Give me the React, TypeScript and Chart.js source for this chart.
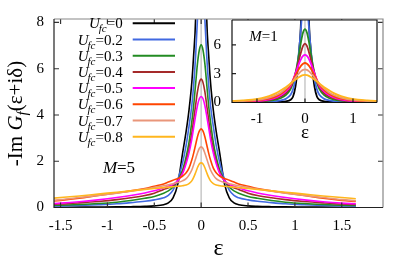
import React, { useEffect, useRef } from "react";
import { Chart, registerables } from "chart.js";
Chart.register(...registerables);

const W = 395;
const H = 261;
const FONT = "'Liberation Serif', 'DejaVu Serif', serif";

const uLabels = ["0", "0.2", "0.3", "0.4", "0.5", "0.6", "0.7", "0.8"];
const colors = ["#000000", "#4169e1", "#228b22", "#a52a2a", "#ff00ff", "#ff4500", "#e9967a", "#ffb61e"];

// Main panel (M=5): values on the positive half of the energy axis (curves are symmetric)
const epsMain = [0, 0.02, 0.04, 0.06, 0.08, 0.1, 0.13, 0.16, 0.2, 0.25, 0.3, 0.35, 0.4, 0.5, 0.6, 0.75, 0.9, 1.1, 1.3, 1.5, 1.65];
const m5U00 = [40, 22, 12, 8.1, 6.6, 5.4, 4.2, 3.3, 2.3, 1.0, 0.42, 0.2, 0.12, 0.07, 0.05, 0.035, 0.025, 0.02, 0.015, 0.012, 0.01];
const m5U02 = [11, 10, 8.1, 6.5, 5.3, 4.4, 3.5, 2.7, 1.9, 1.2, 0.75, 0.52, 0.42, 0.33, 0.27, 0.21, 0.16, 0.12, 0.09, 0.07, 0.06];
const m5U03 = [7.03, 6.8, 6.2, 5.3, 4.4, 3.7, 2.8, 2.2, 1.6, 1.15, 0.88, 0.72, 0.62, 0.48, 0.4, 0.3, 0.23, 0.17, 0.13, 0.1, 0.09];
const m5U04 = [5.55, 5.4, 5.0, 4.4, 3.8, 3.2, 2.5, 2.0, 1.5, 1.15, 0.95, 0.85, 0.78, 0.62, 0.52, 0.42, 0.34, 0.26, 0.2, 0.15, 0.13];
const m5U05 = [4.8, 4.7, 4.4, 3.95, 3.45, 2.95, 2.35, 1.9, 1.45, 1.15, 1.0, 0.92, 0.85, 0.72, 0.63, 0.52, 0.43, 0.33, 0.25, 0.19, 0.16];
const m5U06 = [3.4, 3.3, 3.05, 2.7, 2.35, 2.05, 1.7, 1.5, 1.35, 1.25, 1.18, 1.1, 1.02, 0.92, 0.82, 0.72, 0.63, 0.52, 0.4, 0.31, 0.26];
const m5U07 = [2.62, 2.55, 2.35, 2.1, 1.85, 1.62, 1.4, 1.25, 1.15, 1.08, 1.03, 0.98, 0.94, 0.87, 0.8, 0.7, 0.62, 0.52, 0.43, 0.34, 0.29];
const m5U08 = [1.93, 1.88, 1.72, 1.5, 1.3, 1.15, 1.03, 0.97, 0.94, 0.92, 0.9, 0.88, 0.86, 0.82, 0.78, 0.72, 0.66, 0.58, 0.5, 0.43, 0.38];

// Inset (M=1)
const epsInset = [0, 0.04, 0.08, 0.12, 0.16, 0.2, 0.25, 0.3, 0.4, 0.5, 0.6, 0.75, 0.9, 1.1, 1.3, 1.5, 1.6];
const m1U00 = [40, 20, 9, 5.5, 3.2, 1.6, 0.6, 0.28, 0.12, 0.07, 0.05, 0.03, 0.02, 0.015, 0.01, 0.01, 0.01];
const m1U02 = [14, 11, 8, 5.6, 3.8, 2.4, 1.35, 0.8, 0.38, 0.22, 0.15, 0.1, 0.07, 0.05, 0.04, 0.03, 0.025];
const m1U03 = [7.65, 7.3, 6.4, 5.2, 4.0, 3.0, 2.05, 1.4, 0.78, 0.47, 0.31, 0.19, 0.12, 0.08, 0.06, 0.045, 0.04];
const m1U04 = [6.14, 5.9, 5.3, 4.55, 3.75, 3.0, 2.2, 1.6, 0.98, 0.62, 0.42, 0.25, 0.16, 0.1, 0.07, 0.055, 0.05];
const m1U05 = [4.97, 4.85, 4.55, 4.1, 3.55, 3.0, 2.35, 1.75, 1.15, 0.78, 0.52, 0.32, 0.2, 0.13, 0.09, 0.07, 0.065];
const m1U06 = [4.12, 4.05, 3.85, 3.55, 3.2, 2.8, 2.3, 1.85, 1.3, 0.92, 0.64, 0.4, 0.27, 0.17, 0.12, 0.09, 0.08];
const m1U07 = [3.45, 3.4, 3.27, 3.07, 2.85, 2.58, 2.25, 1.95, 1.45, 1.05, 0.78, 0.5, 0.34, 0.22, 0.15, 0.11, 0.1];
const m1U08 = [2.88, 2.86, 2.78, 2.66, 2.52, 2.37, 2.18, 1.98, 1.6, 1.28, 0.98, 0.66, 0.45, 0.3, 0.22, 0.17, 0.15];

const mainXTicks = [-1.5, -1, -0.5, 0, 0.5, 1, 1.5];
const mainYTicks = [0, 2, 4, 6, 8];
const insetXTicks = [-1, 0, 1];
const insetYTicks = [0, 3, 6];

const mainSeries = [m5U00, m5U02, m5U03, m5U04, m5U05, m5U06, m5U07, m5U08];
const insetSeries = [m1U00, m1U02, m1U03, m1U04, m1U05, m1U06, m1U07, m1U08];

type Part = { t: string; it?: boolean; size: number; dy?: number; dx?: number };
const fontStr = (p: Part) => `${p.it ? "italic " : ""}${p.size}px ${FONT}`;

function drawRich(ctx: CanvasRenderingContext2D, parts: Part[], x: number, y: number, align: "left" | "right" | "center") {
  ctx.textAlign = "left";
  ctx.textBaseline = "alphabetic";
  const widths = parts.map((p) => {
    ctx.font = fontStr(p);
    return ctx.measureText(p.t).width + (p.dx || 0);
  });
  const total = widths.reduce((a, b) => a + b, 0);
  let cx = align === "right" ? x - total : align === "center" ? x - total / 2 : x;
  parts.forEach((p, i) => {
    ctx.font = fontStr(p);
    ctx.fillText(p.t, cx + (p.dx || 0), y + (p.dy || 0));
    cx += widths[i];
  });
}

function mirrored(eps: number[], vals: number[]) {
  const pts: { x: number; y: number }[] = [];
  for (let i = eps.length - 1; i >= 1; i--) pts.push({ x: -eps[i], y: vals[i] });
  for (let i = 0; i < eps.length; i++) pts.push({ x: eps[i], y: vals[i] });
  return pts;
}

const framePlugin = {
  id: "frame",
  beforeDraw(chart: any, _a: any, opts: any) {
    if (opts.fill) {
      const { left, top, right, bottom } = chart.chartArea;
      const ctx = chart.ctx;
      ctx.save();
      ctx.fillStyle = opts.fill;
      ctx.fillRect(left, top, right - left, bottom - top);
      ctx.restore();
    }
  },
  beforeDatasetsDraw(chart: any) {
    const { top, bottom } = chart.chartArea;
    const x0 = chart.scales.x.getPixelForValue(0);
    const ctx = chart.ctx;
    ctx.save();
    ctx.strokeStyle = "#c8c8c8";
    ctx.lineWidth = 1.5;
    ctx.beginPath();
    ctx.moveTo(x0, bottom);
    ctx.lineTo(x0, top);
    ctx.stroke();
    ctx.restore();
  },
  afterDatasetsDraw(chart: any, _a: any, opts: any) {
    const { left, top, right, bottom } = chart.chartArea;
    const ctx = chart.ctx;
    const sx = chart.scales.x;
    const sy = chart.scales.y;
    ctx.save();
    ctx.lineWidth = opts.width;
    ctx.strokeStyle = opts.tickColor;
    const L = opts.len;
    ctx.beginPath();
    opts.xTicks.forEach((v: number) => {
      const px = sx.getPixelForValue(v);
      ctx.moveTo(px, bottom);
      ctx.lineTo(px, bottom - L);
      if (opts.mirror) {
        ctx.moveTo(px, top);
        ctx.lineTo(px, top + L);
      }
    });
    opts.yTicks.forEach((v: number) => {
      const py = sy.getPixelForValue(v);
      ctx.moveTo(left, py);
      ctx.lineTo(left + L, py);
      if (opts.mirror) {
        ctx.moveTo(right, py);
        ctx.lineTo(right - L, py);
      }
    });
    ctx.stroke();
    ctx.strokeStyle = opts.colorTR;
    ctx.beginPath();
    ctx.moveTo(left, top);
    ctx.lineTo(right, top);
    ctx.lineTo(right, bottom);
    ctx.stroke();
    ctx.strokeStyle = opts.colorLB;
    ctx.beginPath();
    ctx.moveTo(left, top);
    ctx.lineTo(left, bottom);
    ctx.lineTo(right, bottom);
    ctx.stroke();
    ctx.restore();
  },
};

const mainTextPlugin = {
  id: "mainText",
  afterDraw(chart: any) {
    const ctx = chart.ctx as CanvasRenderingContext2D;
    ctx.save();
    ctx.fillStyle = "#000";
    chart.data.datasets.forEach((ds: any, i: number) => {
      const y = 23.3 + i * 16.2;
      drawRich(
        ctx,
        [
          { t: "U", it: true, size: 15 },
          { t: "fc", it: true, size: 11, dy: 4, dx: -1 },
          { t: "=" + uLabels[i], size: 15 },
        ],
        122.7,
        y + 5,
        "right"
      );
      ctx.strokeStyle = ds.borderColor;
      ctx.lineWidth = 2;
      ctx.beginPath();
      ctx.moveTo(132.7, y);
      ctx.lineTo(175, y);
      ctx.stroke();
    });
    ctx.fillStyle = "#000";
    drawRich(ctx, [{ t: "M", it: true, size: 17 }, { t: "=5", size: 17 }], 119, 173, "center");
    drawRich(ctx, [{ t: "ε", size: 24 }], 218.5, 255, "center");
    ctx.translate(22, 113.5);
    ctx.rotate(-Math.PI / 2);
    drawRich(
      ctx,
      [
        { t: "-Im ", size: 21 },
        { t: "G", it: true, size: 21 },
        { t: "f", it: true, size: 15, dy: 5 },
        { t: "(ε+iδ)", size: 21 },
      ],
      0,
      0,
      "center"
    );
    ctx.restore();
  },
};

const insetTextPlugin = {
  id: "insetText",
  afterDraw(chart: any) {
    const ctx = chart.ctx as CanvasRenderingContext2D;
    ctx.save();
    ctx.fillStyle = "#000";
    drawRich(ctx, [{ t: "M", it: true, size: 15 }, { t: "=1", size: 15 }], 263.5, 40.5, "center");
    drawRich(ctx, [{ t: "ε", size: 19 }], 305, 138, "center");
    ctx.restore();
  },
};

function makeDatasets(eps: number[], series: number[][], width: number) {
  return series.map((vals, i) => ({
    label: "U_fc=" + uLabels[i],
    data: mirrored(eps, vals),
    borderColor: colors[i],
    backgroundColor: colors[i],
    borderWidth: width,
    pointRadius: 0,
    fill: false,
    cubicInterpolationMode: "monotone" as const,
    order: series.length - 1 - i,
  }));
}

function axis(min: number, max: number, ticks: number[], size: number, pad: number, fit: (s: any) => void) {
  return {
    type: "linear" as const,
    min,
    max,
    grid: { display: false, drawTicks: false },
    border: { display: false },
    afterFit: fit,
    afterBuildTicks: (s: any) => {
      s.ticks = ticks.map((v) => ({ value: v }));
    },
    ticks: {
      autoSkip: false,
      maxRotation: 0,
      padding: pad,
      color: "#000",
      font: { family: FONT, size },
      callback: (v: any) => String(v),
    },
  };
}

export default function App() {
  const mainRef = useRef<HTMLCanvasElement>(null);
  const insetRef = useRef<HTMLCanvasElement>(null);

  useEffect(() => {
    const main = new Chart(mainRef.current as HTMLCanvasElement, {
      type: "line",
      data: { datasets: makeDatasets(epsMain, mainSeries, 1.6) as any },
      options: {
        responsive: false,
        animation: false,
        events: [],
        layout: { padding: { left: 0, top: 12, right: 12, bottom: 0 } },
        plugins: {
          legend: { display: false },
          tooltip: { enabled: false },
          frame: {
            xTicks: mainXTicks,
            yTicks: mainYTicks,
            len: 5,
            mirror: true,
            width: 1.2,
            tickColor: "#333",
            colorLB: "#222",
            colorTR: "#888",
          },
        } as any,
        scales: {
          x: axis(-1.57, 1.94, mainXTicks, 15, 10, (s: any) => {
            s.height = 53.5;
          }),
          y: axis(0, 8.15, mainYTicks, 15, 10, (s: any) => {
            s.width = 54;
          }),
        } as any,
      },
      plugins: [framePlugin, mainTextPlugin],
    });

    const inset = new Chart(insetRef.current as HTMLCanvasElement, {
      type: "line",
      data: { datasets: makeDatasets(epsInset, insetSeries, 1.8) as any },
      options: {
        responsive: false,
        animation: false,
        events: [],
        layout: { padding: { left: 202, top: 17, right: 18, bottom: 128.5 } },
        plugins: {
          legend: { display: false },
          tooltip: { enabled: false },
          frame: {
            fill: "#ffffff",
            xTicks: insetXTicks,
            yTicks: insetYTicks,
            len: 4,
            mirror: false,
            width: 1.2,
            tickColor: "#222",
            colorLB: "#111",
            colorTR: "#111",
          },
        } as any,
        scales: {
          x: axis(-1.52, 1.5, insetXTicks, 15, 8, (s: any) => {
            s.height = 30;
          }),
          y: axis(0, 8.6, insetYTicks, 15, 11, (s: any) => {
            s.width = 30;
          }),
        } as any,
      },
      plugins: [framePlugin, insetTextPlugin],
    });

    return () => {
      main.destroy();
      inset.destroy();
    };
  }, []);

  return (
    <div style={{ position: "fixed", left: 0, top: 0, width: W, height: H, background: "#fff" }}>
      <canvas ref={mainRef} width={W} height={H} style={{ position: "absolute", left: 0, top: 0 }} />
      <canvas ref={insetRef} width={W} height={H} style={{ position: "absolute", left: 0, top: 0 }} />
    </div>
  );
}
